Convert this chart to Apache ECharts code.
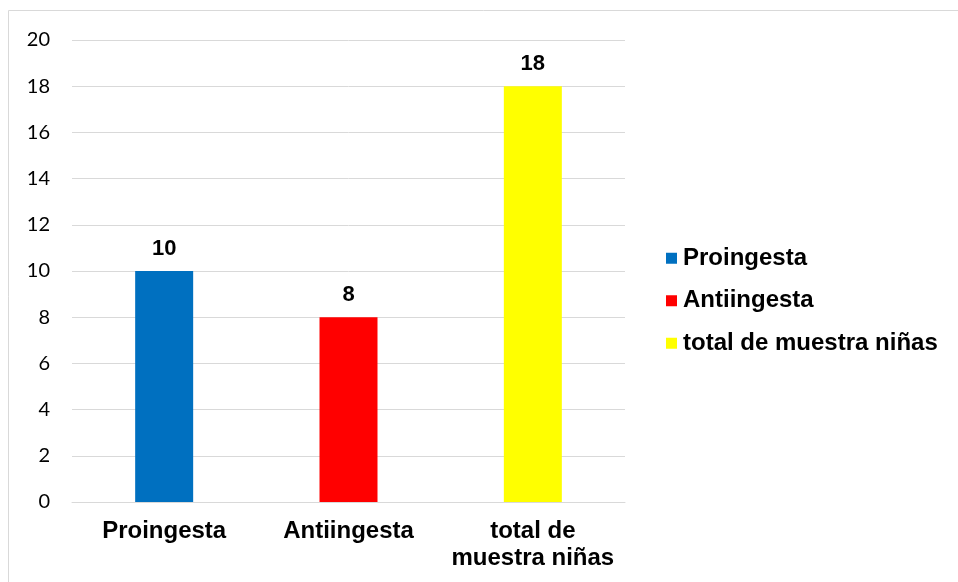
<!DOCTYPE html>
<html>
<head>
<meta charset="utf-8">
<script src="https://cdn.jsdelivr.net/npm/echarts@6/dist/echarts.min.js"></script>
<style>
html,body{margin:0;padding:0;background:#fff;}
#chart{width:958px;height:582px;}
</style>
</head>
<body>
<div id="chart"></div>
<script>
// Categories and counts
const categories = ['Proingesta', 'Antiingesta', 'total de\nmuestra niñas'];
const seriesNames = ['Proingesta', 'Antiingesta', 'total de muestra niñas'];
const values = [10, 8, 18];
const colors = ['#0070C0', '#FF0000', '#FFFF00'];
const yTicks = { min: 0, max: 20, interval: 2 };

const boldFont = 'Liberation Sans, Arial, sans-serif';

const chart = echarts.init(document.getElementById('chart'));

// One series per category so each appears in the legend; stacking keeps bars centred
const series = seriesNames.map((name, i) => ({
  name: name,
  type: 'bar',
  stack: 'all',
  barWidth: 58,
  itemStyle: { color: colors[i] },
  label: {
    show: true,
    position: 'top',
    distance: 11,
    fontFamily: boldFont,
    fontWeight: 'bold',
    fontSize: 22,
    color: '#000'
  },
  data: categories.map((c, j) => (j === i ? values[i] : '-'))
}));

chart.setOption({
  animation: false,
  graphic: [{
    type: 'rect',
    shape: { x: 8.5, y: 10.5, width: 960, height: 600 },
    style: { fill: 'none', stroke: '#d9d9d9', lineWidth: 1 },
    silent: true
  }],
  grid: { left: 72, right: 333, top: 40, bottom: 80 },
  legend: {
    orient: 'vertical',
    left: 661,
    top: 241,
    itemWidth: 11,
    itemHeight: 11,
    itemGap: 18,
    icon: 'rect',
    textStyle: {
      fontFamily: boldFont,
      fontWeight: 'bold',
      fontSize: 24,
      lineHeight: 24.5,
      color: '#000',
      padding: [0, 0, 0, 1]
    },
    data: seriesNames
  },
  xAxis: {
    type: 'category',
    data: categories,
    axisLine: { show: true, lineStyle: { color: '#d9d9d9', width: 1 } },
    axisTick: { show: false },
    axisLabel: {
      interval: 0,
      margin: 16,
      fontFamily: boldFont,
      fontWeight: 'bold',
      fontSize: 24,
      lineHeight: 27,
      color: '#000'
    }
  },
  yAxis: {
    type: 'value',
    min: yTicks.min,
    max: yTicks.max,
    interval: yTicks.interval,
    axisLine: { show: false },
    axisTick: { show: false },
    splitLine: { lineStyle: { color: '#d9d9d9', width: 1 } },
    axisLabel: {
      margin: 22,
      fontFamily: 'Lato, Open Sans, sans-serif',
      fontSize: 20,
      color: '#000'
    }
  },
  series: series
});
</script>
</body>
</html>
